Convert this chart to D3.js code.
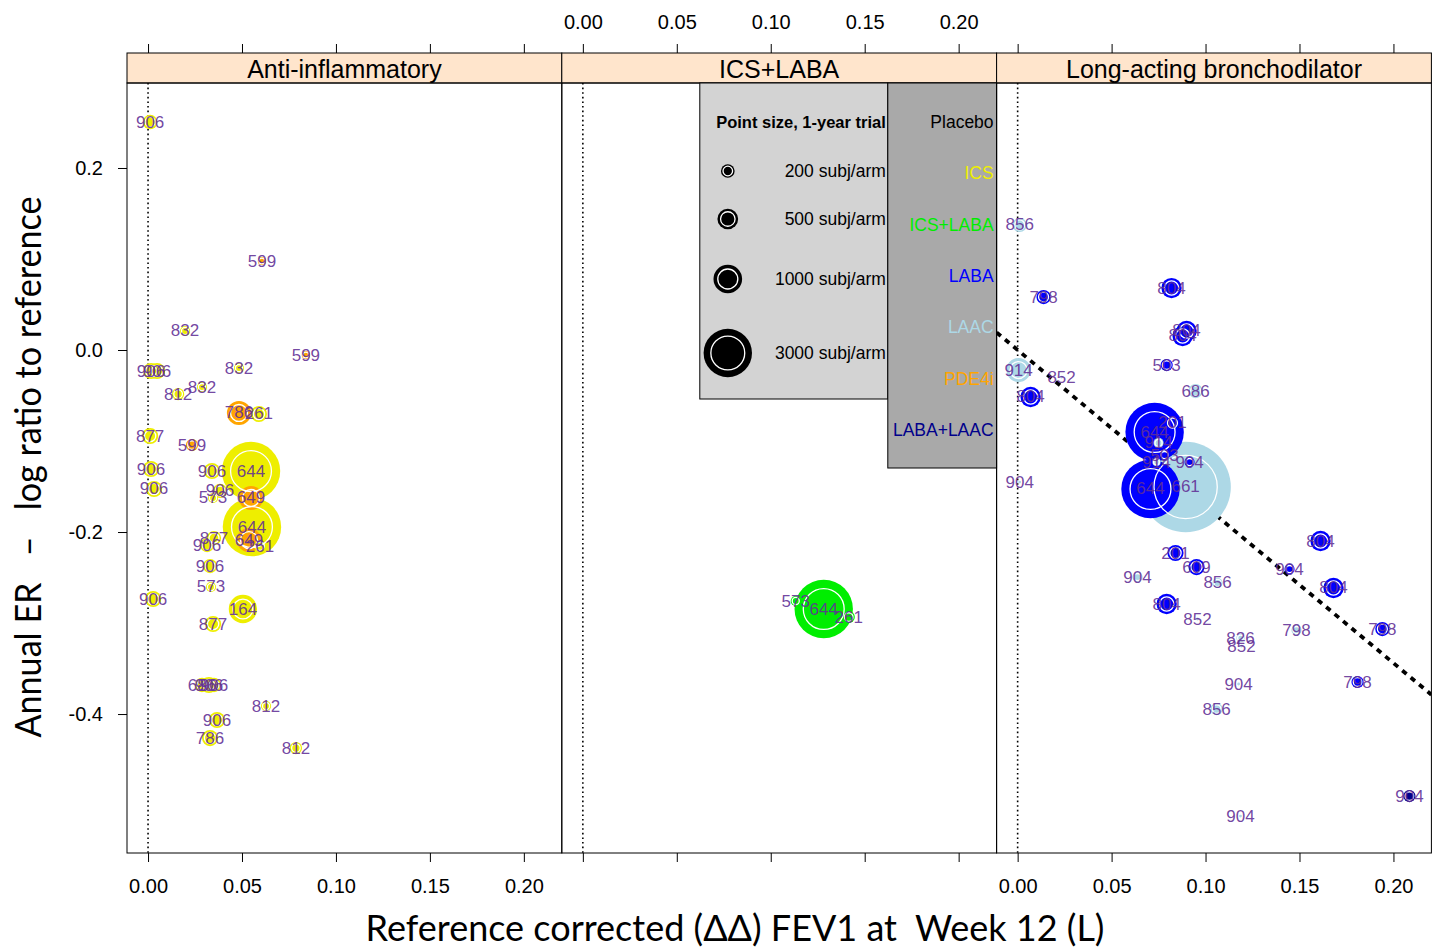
<!DOCTYPE html>
<html>
<head>
<meta charset="utf-8">
<script src="https://cdn.jsdelivr.net/npm/d3@7"></script>
<style>
  body { margin: 0; background: #fff; }
  svg { display: block; font-family: "Liberation Sans", Arial, sans-serif; }
</style>
</head>
<body>
<script>
'use strict';

// panels and treatment classes
const panelNames = ['Anti-inflammatory', 'ICS+LABA', 'Long-acting bronchodilator'];
const treatmentNames = ['Placebo', 'ICS', 'ICS+LABA', 'LABA', 'LAAC', 'PDE4i', 'LABA+LAAC'];
const treatmentColors = ['#000000', '#eeee00', '#00ee00', '#0000ff', '#add8e6', '#ffa500', '#00008b'];
const sizeLegendN = [200, 500, 1000, 3000];
const xTicks = [0, 0.05, 0.10, 0.15, 0.20];
const yTicks = [-0.4, -0.2, 0.0, 0.2];
const trendSlope = -1.72; // reference line in the bronchodilator panel, through 0

// [study, treatment, dd FEV1 (L), log ER ratio, subj/arm]
const antiInflammatory = [
  ['906', 'ICS', 0.0011, 0.2505, 230],
  ['599', 'PDE4i', 0.0606, 0.0978, 60],
  ['832', 'ICS', 0.0197, 0.0209, 100],
  ['599', 'PDE4i', 0.0840, -0.0055, 60],
  ['906', 'ICS', 0.0016, -0.0231, 290],
  ['906', 'ICS', 0.0048, -0.0231, 290],
  ['832', 'ICS', 0.0484, -0.0198, 100],
  ['812', 'ICS', 0.0160, -0.0484, 155],
  ['832', 'ICS', 0.0287, -0.0407, 100],
  ['786', 'PDE4i', 0.0484, -0.0692, 700],
  ['261', 'ICS', 0.0590, -0.0703, 290],
  ['877', 'ICS', 0.0011, -0.0945, 290],
  ['599', 'PDE4i', 0.0234, -0.1044, 155],
  ['906', 'ICS', 0.0016, -0.1308, 290],
  ['906', 'ICS', 0.0340, -0.1330, 290],
  ['644', 'ICS', 0.0548, -0.1330, 4420],
  ['906', 'ICS', 0.0032, -0.1527, 290],
  ['906', 'ICS', 0.0383, -0.1549, 220],
  ['573', 'ICS', 0.0346, -0.1626, 100],
  ['649', 'PDE4i', 0.0548, -0.1626, 700],
  ['644', 'ICS', 0.0553, -0.1945, 4420],
  ['877', 'ICS', 0.0351, -0.2066, 220],
  ['906', 'ICS', 0.0314, -0.2143, 220],
  ['649', 'PDE4i', 0.0537, -0.2088, 700],
  ['261', 'ICS', 0.0596, -0.2154, 155],
  ['906', 'ICS', 0.0330, -0.2374, 220],
  ['573', 'ICS', 0.0335, -0.2604, 100],
  ['906', 'ICS', 0.0027, -0.2736, 290],
  ['164', 'ICS', 0.0505, -0.2846, 980],
  ['877', 'ICS', 0.0346, -0.3011, 290],
  ['686', 'ICS', 0.0287, -0.3681, 220],
  ['906', 'ICS', 0.0324, -0.3681, 290],
  ['906', 'ICS', 0.0351, -0.3681, 220],
  ['812', 'ICS', 0.0628, -0.3912, 100],
  ['906', 'ICS', 0.0367, -0.4066, 290],
  ['786', 'ICS', 0.0330, -0.4264, 290],
  ['812', 'ICS', 0.0787, -0.4374, 155]
];

const icsLaba = [
  ['573', 'ICS+LABA', 0.1133, -0.2758, 100],
  ['644', 'ICS+LABA', 0.1282, -0.2846, 4420],
  ['261', 'ICS+LABA', 0.1415, -0.2934, 155]
];

const bronchodilator = [
  ['856', 'LAAC', 0.0011, 0.1374, 220],
  ['798', 'LABA', 0.0138, 0.0582, 220],
  ['804', 'LABA', 0.0819, 0.0681, 480],
  ['804', 'LABA', 0.0899, 0.0209, 480],
  ['804', 'LABA', 0.0878, 0.0154, 480],
  ['503', 'LABA', 0.0793, -0.0165, 155],
  ['686', 'LAAC', 0.0947, -0.0451, 220],
  ['914', 'LAAC', 0.0005, -0.0220, 700],
  ['852', 'LAAC', 0.0234, -0.0297, 2],
  ['804', 'LABA', 0.0069, -0.0516, 480],
  ['904', 'LAAC', 0.0011, -0.1451, 2],
  ['644', 'LABA', 0.0729, -0.0901, 4420],
  ['201', 'LABA', 0.0824, -0.0802, 220],
  ['914', 'LAAC', 0.0750, -0.1021, 100],
  ['503', 'LABA', 0.0782, -0.1154, 100],
  ['914', 'LAAC', 0.0739, -0.1231, 60],
  ['904', 'LABA', 0.0915, -0.1231, 100],
  ['644', 'LABA', 0.0707, -0.1527, 4420],
  ['661', 'LAAC', 0.0894, -0.1505, 10800],
  ['201', 'LABA', 0.0840, -0.2231, 290],
  ['609', 'LABA', 0.0952, -0.2385, 290],
  ['904', 'LAAC', 0.0638, -0.2495, 100],
  ['856', 'LAAC', 0.1064, -0.2560, 100],
  ['804', 'LABA', 0.0793, -0.2791, 480],
  ['852', 'LAAC', 0.0957, -0.2956, 2],
  ['826', 'LAAC', 0.1186, -0.3165, 60],
  ['852', 'LAAC', 0.1191, -0.3253, 2],
  ['798', 'LAAC', 0.1484, -0.3077, 100],
  ['904', 'LABA', 0.1447, -0.2407, 100],
  ['804', 'LABA', 0.1612, -0.2099, 480],
  ['804', 'LABA', 0.1681, -0.2615, 480],
  ['798', 'LABA', 0.1941, -0.3066, 220],
  ['798', 'LABA', 0.1809, -0.3648, 155],
  ['904', 'LAAC', 0.1176, -0.3670, 2],
  ['856', 'LAAC', 0.1059, -0.3945, 155],
  ['904', 'LABA+LAAC', 0.2085, -0.4901, 155],
  ['904', 'LAAC', 0.1186, -0.5121, 2]
];

const panelData = [antiInflammatory, icsLaba, bronchodilator];

// Layout
const W = 1432, H = 949;
const left0 = 127, panelW = 434.8;
const stripTop = 53, panelTop = 83, panelBottom = 853;
const labelColor = 'rgb(98,48,150)';

const svg = d3.select('body').append('svg').attr('width', W).attr('height', H);

const x = d3.scaleLinear().domain([-0.0112, 0.2202]).range([0, panelW]);
const y = d3.scaleLinear().domain([-0.5527, 0.2934]).range([panelBottom, panelTop]);
const r = d3.scaleSqrt().domain([0, 3000]).range([0.8, 24.2]);
const color = d3.scaleOrdinal().domain(treatmentNames).range(treatmentColors);
const fmtX = d => d.toFixed(2);
const fmtY = d => d.toFixed(1);

function styleAxis(g, size) {
  g.select('.domain').remove();
  g.selectAll('.tick line').attr('stroke', '#000');
  g.selectAll('.tick text').attr('font-family', '"Liberation Sans", Arial, sans-serif')
    .attr('font-size', size).attr('fill', '#000');
}

// draw fills, then white rings (like overplotted R points)
function drawPoints(g, pts) {
  const sorted = pts.slice().sort((a, b) => b.n - a.n);
  g.append('g').selectAll('circle').data(sorted).enter().append('circle')
    .attr('cx', d => d.cx).attr('cy', d => d.cy).attr('r', d => r(d.n))
    .attr('fill', d => d.fill);
  g.append('g').selectAll('circle').data(sorted.filter(d => d.n > 20)).enter().append('circle')
    .attr('cx', d => d.cx).attr('cy', d => d.cy).attr('r', d => r(d.n) * 0.7)
    .attr('fill', 'none').attr('stroke', '#fff').attr('stroke-width', 1.3);
}

panelNames.forEach((name, i) => {
  const g = svg.append('g').attr('transform', `translate(${left0 + i * panelW},0)`);
  const clipId = `clip${i}`;
  g.append('clipPath').attr('id', clipId).append('rect')
    .attr('x', 0).attr('y', panelTop).attr('width', panelW).attr('height', panelBottom - panelTop);
  const body = g.append('g').attr('clip-path', `url(#${clipId})`);

  // zero reference
  body.append('line')
    .attr('x1', x(0)).attr('x2', x(0)).attr('y1', panelTop).attr('y2', panelBottom)
    .attr('stroke', '#000').attr('stroke-width', 1.6).attr('stroke-dasharray', '1.6,3');

  if (i === 2) {
    const dom = x.domain();
    body.append('line')
      .attr('x1', x(dom[0])).attr('y1', y(trendSlope * dom[0]))
      .attr('x2', x(dom[1])).attr('y2', y(trendSlope * dom[1]))
      .attr('stroke', '#000').attr('stroke-width', 3.8).attr('stroke-dasharray', '5.5,5.5');
  }

  const pts = panelData[i].map(([study, trt, fev, ler, n]) => ({
    study, n, cx: x(fev), cy: y(ler), fill: color(trt)
  }));
  drawPoints(body, pts);
  body.append('g').selectAll('text').data(pts).enter().append('text')
    .attr('x', d => d.cx).attr('y', d => d.cy)
    .attr('text-anchor', 'middle').attr('dominant-baseline', 'central')
    .attr('font-size', 17).attr('fill', labelColor).attr('fill-opacity', 0.9)
    .text(d => d.study);

  // strip
  g.append('rect').attr('x', 0).attr('y', stripTop).attr('width', panelW).attr('height', panelTop - stripTop)
    .attr('fill', '#ffe5cc').attr('stroke', '#000');
  g.append('text').attr('x', panelW / 2).attr('y', (stripTop + panelTop) / 2 + 1)
    .attr('text-anchor', 'middle').attr('dominant-baseline', 'central')
    .attr('font-size', 25).text(name);

  // frame
  g.append('rect').attr('x', 0).attr('y', panelTop).attr('width', panelW).attr('height', panelBottom - panelTop)
    .attr('fill', 'none').attr('stroke', '#000');

  // x axes: labels alternate bottom / top like lattice
  const bottom = d3.axisBottom(x).tickValues(xTicks).tickSize(9).tickPadding(17)
    .tickFormat(i === 1 ? () => '' : fmtX);
  g.append('g').attr('transform', `translate(0,${panelBottom})`).call(bottom).call(a => styleAxis(a, 20));
  const top = d3.axisTop(x).tickValues(xTicks).tickSize(9).tickPadding(15)
    .tickFormat(i === 1 ? fmtX : () => '');
  g.append('g').attr('transform', `translate(0,${stripTop})`).call(top).call(a => styleAxis(a, 20));

  if (i === 0) {
    const leftAxis = d3.axisLeft(y).tickValues(yTicks).tickSize(9).tickPadding(15).tickFormat(fmtY);
    g.append('g').call(leftAxis).call(a => styleAxis(a, 20));
  }

  // legend in the middle panel
  if (i === 1) {
    const lg = g.append('g');
    lg.append('rect').attr('x', 138).attr('y', panelTop).attr('width', 188).attr('height', 316)
      .attr('fill', '#d3d3d3').attr('stroke', '#000');
    lg.append('rect').attr('x', 326).attr('y', panelTop).attr('width', panelW - 326).attr('height', 385)
      .attr('fill', '#a9a9a9').attr('stroke', '#000');
    lg.append('text').attr('x', 324).attr('y', 122).attr('text-anchor', 'end')
      .attr('dominant-baseline', 'central').attr('font-size', 16.5).attr('font-weight', 'bold')
      .text('Point size, 1-year trial');
    const sizeY = [171, 219, 279, 353];
    const lpts = sizeLegendN.map((n, k) => ({ n, cx: 166, cy: sizeY[k], fill: '#000' }));
    drawPoints(lg, lpts);
    lg.append('g').selectAll('text').data(lpts).enter().append('text')
      .attr('x', 324).attr('y', d => d.cy).attr('text-anchor', 'end')
      .attr('dominant-baseline', 'central').attr('font-size', 17.5)
      .text(d => `${d.n} subj/arm`);
    lg.append('g').selectAll('text').data(treatmentNames).enter().append('text')
      .attr('x', panelW - 3).attr('y', (d, k) => 122 + k * 51.3)
      .attr('text-anchor', 'end').attr('dominant-baseline', 'central').attr('font-size', 17.5)
      .attr('fill', d => color(d)).text(d => d);
  }
});

// axis titles
svg.append('text').attr('x', 735).attr('y', 941).attr('text-anchor', 'middle')
  .attr('font-family', 'Lato, "Open Sans", sans-serif').attr('font-size', 36)
  .attr('textLength', 739).attr('lengthAdjust', 'spacingAndGlyphs')
  .text('Reference corrected (\u0394\u0394) FEV1 at\u00a0 Week 12 (L)');
svg.append('text').attr('transform', 'translate(41,467) rotate(-90)').attr('text-anchor', 'middle')
  .attr('font-family', 'Lato, "Open Sans", sans-serif').attr('font-size', 36)
  .attr('textLength', 541).attr('lengthAdjust', 'spacingAndGlyphs')
  .text('Annual ER\u00a0\u00a0 \u2013 \u00a0\u00a0log ratio to reference');
</script>
</body>
</html>
